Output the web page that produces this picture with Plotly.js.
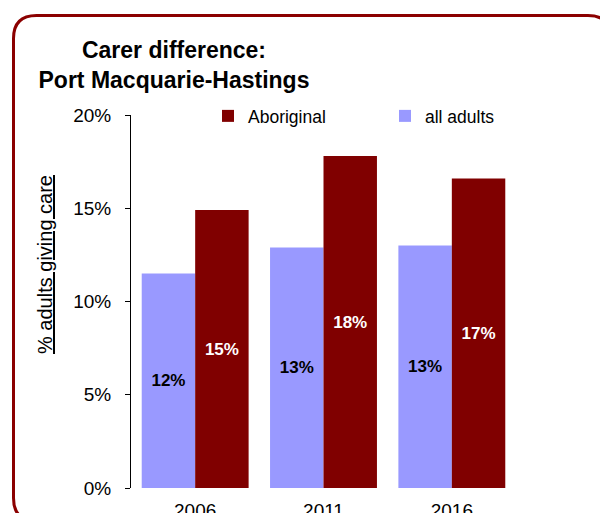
<!DOCTYPE html>
<html>
<head>
<meta charset="utf-8">
<script src="https://cdn.plot.ly/plotly-3.0.1.min.js"></script>
<style>
  html, body { margin: 0; padding: 0; background: #ffffff; overflow: hidden; }
  #chart { width: 600px; height: 513px; }
</style>
</head>
<body>
<div id="chart"></div>
<script>
// ---- data ----
const years = ['2006', '2011', '2016'];
const allAdults = [11.5, 12.9, 13.0];
const aboriginal = [14.9, 17.8, 16.6];
const yTickVals = [0, 5, 10, 15, 20];
const yTickText = ['0%', '5%', '10%', '15%', '20%'];

// ---- layout geometry ----
const W = 600, H = 513;
const M = { l: 131, r: 84, t: 115, b: 25 };
const PW = W - M.l - M.r, PH = H - M.t - M.b;
const px = x => (x - M.l) / PW;
const py = y => (H - M.b - y) / PH;

// rounded frame (pixel geometry converted to paper coords)
function roundedRect(L, T, R, B, r) {
  const p = (x, y) => px(x).toFixed(5) + ',' + py(y).toFixed(5);
  return 'M' + p(L, T + r) +
    ' Q' + p(L, T) + ' ' + p(L + r, T) +
    ' L' + p(R - r, T) +
    ' Q' + p(R, T) + ' ' + p(R, T + r) +
    ' L' + p(R, B - r) +
    ' Q' + p(R, B) + ' ' + p(R - r, B) +
    ' L' + p(L + r, B) +
    ' Q' + p(L, B) + ' ' + p(L, B - r) + ' Z';
}

const FONT = 'Liberation Sans, Arial, Helvetica, sans-serif';
const pct = v => Math.round(v) + '%';

const traces = [
  {
    type: 'bar', name: 'all adults', x: years, y: allAdults,
    text: allAdults.map(pct), textposition: 'inside', insidetextanchor: 'middle',
    textangle: 0, constraintext: 'none',
    textfont: { family: FONT, size: 17, color: '#000000', weight: 'bold' },
    marker: { color: '#9999FF' }, hoverinfo: 'skip'
  },
  {
    type: 'bar', name: 'Aboriginal', x: years, y: aboriginal,
    text: aboriginal.map(pct), textposition: 'inside', insidetextanchor: 'middle',
    textangle: 0, constraintext: 'none',
    textfont: { family: FONT, size: 17, color: '#FFFFFF', weight: 'bold' },
    marker: { color: '#800000' }, hoverinfo: 'skip'
  }
];

const layout = {
  width: W, height: H,
  margin: M,
  paper_bgcolor: '#ffffff', plot_bgcolor: '#ffffff',
  font: { family: FONT, color: '#000000' },
  barmode: 'group', bargap: 0.167, bargroupgap: 0,
  showlegend: true,
  title: {
    text: 'Carer difference:<br>Port Macquarie-Hastings',
    font: { family: FONT, size: 23, weight: 'bold', color: '#000000' },
    xref: 'container', x: 174 / W, xanchor: 'center',
    yref: 'container', y: 1 - 58 / H, yanchor: 'top'
  },
  legend: {
    orientation: 'h', traceorder: 'reversed',
    x: px(208), xanchor: 'left', y: py(116), yanchor: 'middle',
    font: { family: FONT, size: 17.5, color: '#000000' },
    entrywidth: 132, entrywidthmode: 'pixels',
    bgcolor: 'rgba(0,0,0,0)'
  },
  xaxis: {
    type: 'category', range: [-0.5, 2.5], fixedrange: true,
    showline: false, ticks: '', showgrid: false, zeroline: false,
    tickfont: { family: FONT, size: 19, color: '#000000' },
    ticklabelstandoff: 9
  },
  yaxis: {
    range: [0, 20], fixedrange: true,
    tickmode: 'array', tickvals: yTickVals, ticktext: yTickText,
    showline: true, linecolor: '#000000', linewidth: 1,
    ticks: 'outside', ticklen: 5, tickwidth: 1, tickcolor: '#000000',
    showgrid: false, zeroline: false,
    tickfont: { family: FONT, size: 19, color: '#000000' },
    ticklabelstandoff: 10
  },
  annotations: [
    {
      xref: 'paper', yref: 'paper', x: px(45), y: py(265),
      xanchor: 'center', yanchor: 'middle', showarrow: false,
      textangle: -90,
      text: '<u>% adults giving care</u>',
      font: { family: FONT, size: 20, color: '#000000' }
    }
  ],
  shapes: [
    {
      type: 'path', xref: 'paper', yref: 'paper', layer: 'above',
      path: roundedRect(13.5, 15.5, 611, 521, 23),
      line: { color: '#8B0000', width: 3 }, fillcolor: 'rgba(0,0,0,0)'
    }
  ]
};

Plotly.newPlot('chart', traces, layout, { staticPlot: true, displayModeBar: false });
</script>
</body>
</html>
